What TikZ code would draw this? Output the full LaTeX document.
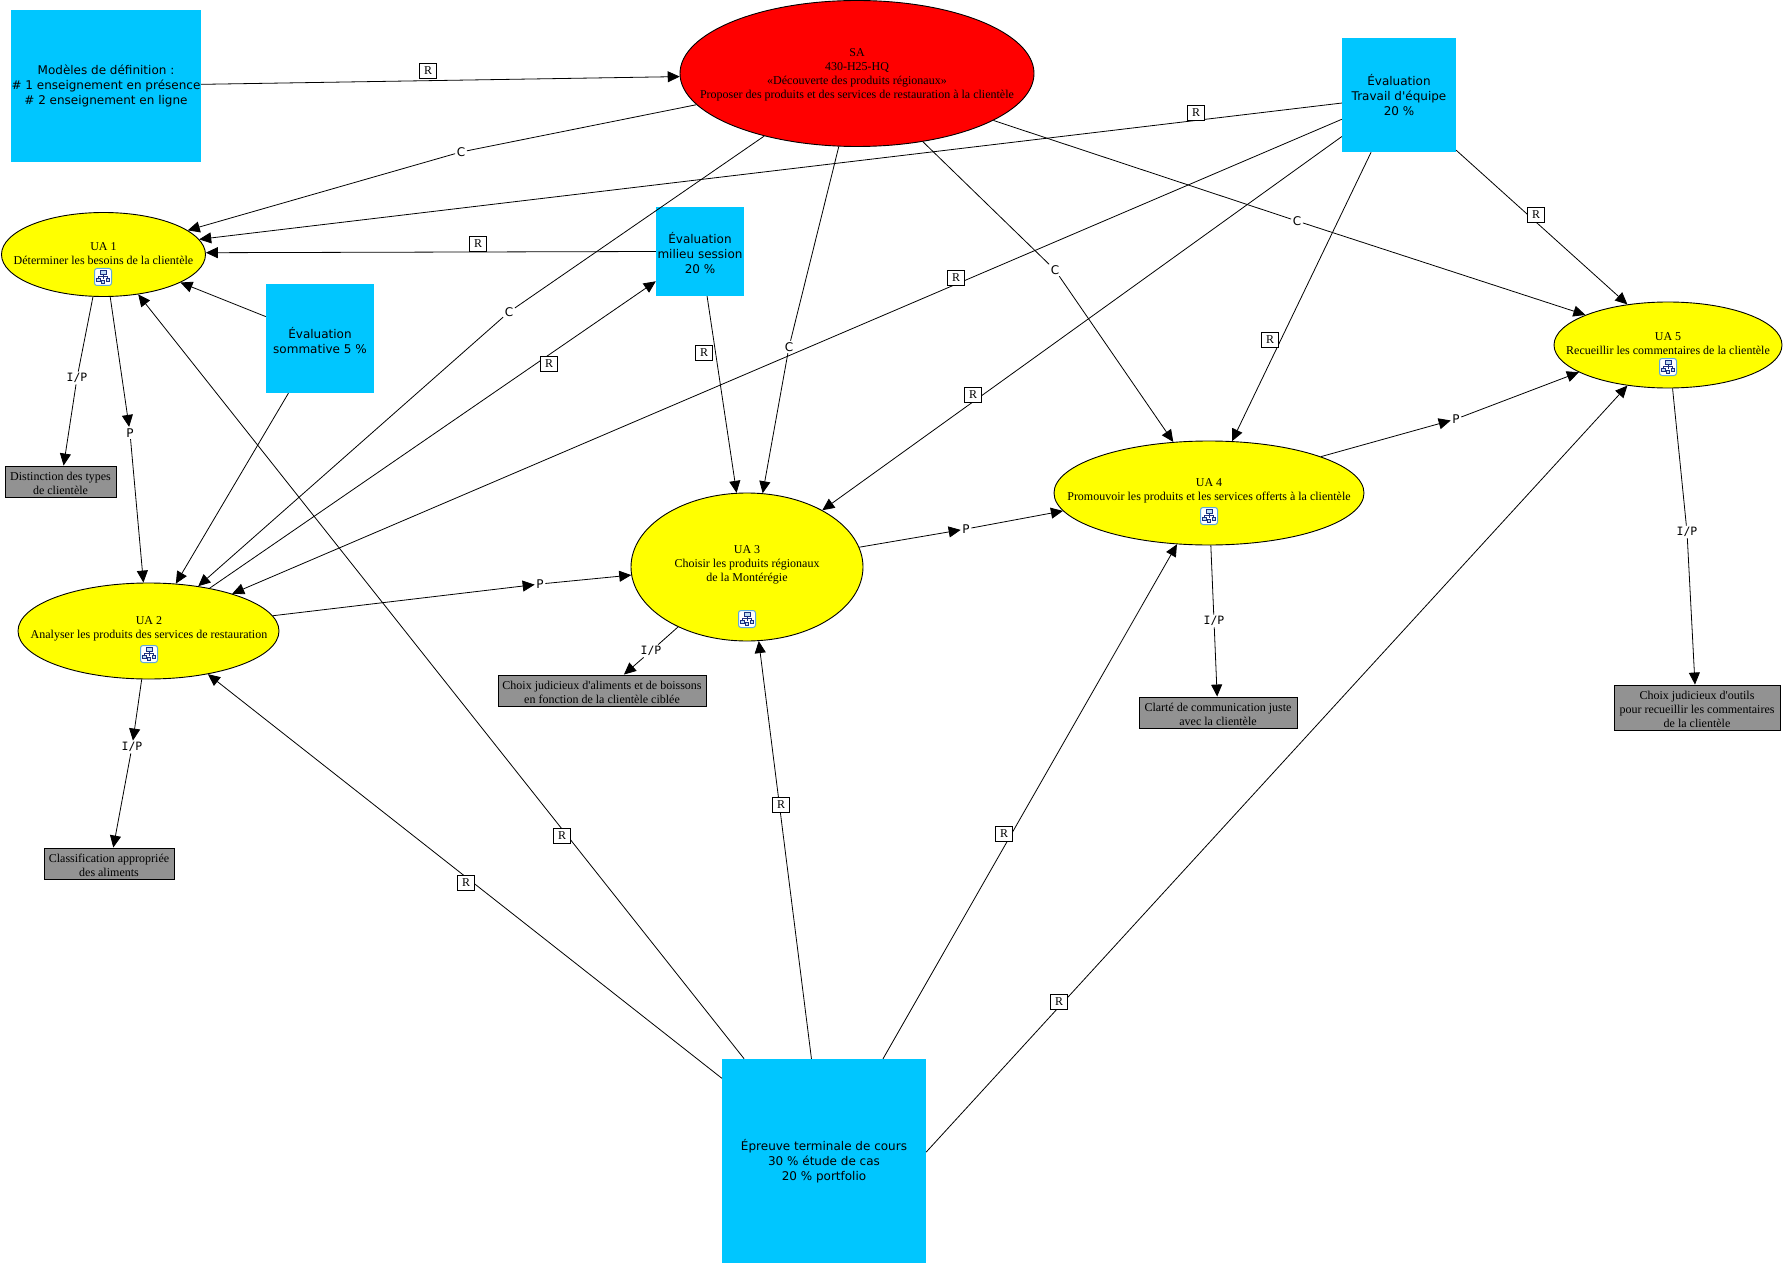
\documentclass[tikz,border=0pt]{standalone}
\usepackage{fontspec}
\usepackage{tikz}
\usetikzlibrary{shapes.geometric, arrows.meta}
\setmainfont{Liberation Serif}
\newfontfamily\uafont{Liberation Serif}
\newfontfamily\evalfont{DejaVu Sans}
\newfontfamily\ipfont{DejaVu Sans Mono}
\definecolor{evalblue}{HTML}{00C6FF}
\definecolor{critgray}{HTML}{929292}
\definecolor{iconblue}{HTML}{1A2F80}
\definecolor{iconedge}{HTML}{5FA8E0}
\definecolor{uayellow}{HTML}{FFFF00}
\definecolor{sared}{HTML}{FF0000}

\tikzset{
  mapicon/.pic={
    \draw[fill=white, draw=iconedge, rounded corners=2.5pt, line width=1pt] (-8.5,-8.5) rectangle (8.5,8.5);
    \draw[iconblue, line width=0.8pt] (0,-3) -- (0,2) (-4.5,1) -- (-4.5,-1) -- (4.5,-1) -- (4.5,1);
    \draw[iconblue, line width=0.9pt, fill=iconedge!40] (-3,-6.5) rectangle (3,-3);
    \draw[iconblue, line width=0.9pt, fill=iconedge!40] (-6.5,1) rectangle (-3,4.5);
    \draw[iconblue, line width=0.9pt, fill=iconedge!40] (3,1) rectangle (6.5,4.5);
    \draw[iconblue, line width=0.9pt, fill=iconedge!40] (-1.5,3) rectangle (1.5,6);
  }
}

\begin{document}
\begin{tikzpicture}[
  x=1pt, y=-1pt,
  >={Triangle[length=12pt,width=11pt]},
  every node/.style={inner sep=0pt, align=center},
  uatext/.style={font=\uafont\fontsize{12}{14}\selectfont},
  uabox/.style={ellipse, draw=black, fill=uayellow, line width=0.9pt},
  evaltext/.style={font=\evalfont\fontsize{12}{14.7}\selectfont},
  evalbox/.style={rectangle, fill=evalblue, evaltext},
  critbox/.style={rectangle, draw=black, fill=critgray, line width=0.9pt},
  relbox/.style={rectangle, draw=black, fill=white, line width=0.7pt, minimum width=17pt, minimum height=15pt, font=\uafont\fontsize{12}{12}\selectfont},
  lnk/.style={fill=white, inner sep=1.5pt, font=\evalfont\fontsize{12}{13}\selectfont},
  iplnk/.style={fill=white, inner sep=1.5pt, font=\ipfont\fontsize{11.5}{12}\selectfont},
  conn/.style={black, line width=0.8pt},
  arr/.style={conn, ->}
]
\useasboundingbox (0,0) rectangle (1783,1265);

% Situation
\node[ellipse, draw=black, fill=sared, line width=0.9pt, minimum width=354pt, minimum height=146pt] (sa) at (857,73.5) {};
\node[uatext] (saT) at (857,75)
  {SA\\430-H25-HQ\\«Découverte des produits régionaux»\\Proposer des produits et des services de restauration à la clientèle};

% Evaluation boxes
\node[evalbox, minimum width=190pt, minimum height=152pt] (model) at (106,86)
  {Modèles de définition :\\\# 1 enseignement en présence\\\# 2 enseignement en ligne};
\node[evalbox, minimum width=114pt, minimum height=114pt] (travail) at (1399,95)
  {Évaluation\\Travail d'équipe\\20 \%};
\node[evalbox, minimum width=88pt, minimum height=89pt] (milieu) at (700,251.5) {};
\node[evaltext] (milieuT) at (700,253) {Évaluation\\milieu session\\20 \%};
\node[evalbox, minimum width=108pt, minimum height=109pt] (somm) at (320,338.5) {};
\node[evaltext] (sommT) at (320,340.5) {Évaluation\\sommative 5 \%};
\node[evalbox, minimum width=204pt, minimum height=204pt] (finale) at (824,1161)
  {Épreuve terminale de cours\\30 \% étude de cas\\20 \% portfolio};

% Learning units
\node[uabox, minimum width=204pt, minimum height=84pt] (uaa) at (103.5,254.5) {};
\node[uabox, minimum width=261pt, minimum height=96pt] (uab) at (148.5,631) {};
\node[uabox, minimum width=232pt, minimum height=148pt] (uac) at (747,567) {};
\node[uabox, minimum width=310pt, minimum height=104pt] (uad) at (1209,493) {};
\node[uabox, minimum width=228pt, minimum height=86pt] (uae) at (1668,345) {};
\node[uatext] (uaaT) at (103.5,253.5) {UA 1\\Déterminer les besoins de la clientèle};
\node[uatext] (uabT) at (149,629) {UA 2\\Analyser les produits des services de restauration};
\node[uatext] (uacT) at (747,565) {UA 3\\Choisir les produits régionaux\\de la Montérégie};
\node[uatext] (uadT) at (1209,491) {UA 4\\Promouvoir les produits et les services offerts à la clientèle};
\node[uatext] (uaeT) at (1668,343.5) {UA 5\\Recueillir les commentaires de la clientèle};

% Map icons
\foreach \x/\y in {103/277, 149/654, 747/619, 1209/516, 1668/367} {
  \pic at (\x,\y) {mapicon};
}

% Criteria
\node[critbox, minimum width=111pt, minimum height=31pt] (critA) at (60.5,481.5) {};
\node[critbox, minimum width=130pt, minimum height=31pt] (critB) at (109,863.5) {};
\node[critbox, minimum width=208pt, minimum height=31pt] (critC) at (602,690.5) {};
\node[critbox, minimum width=158pt, minimum height=31pt] (critD) at (1218,712.5) {};
\node[critbox, minimum width=166pt, minimum height=45pt] (critE) at (1697,707.5) {};
\node[uatext] (critAT) at (60.5,483) {Distinction des types\\de clientèle};
\node[uatext] (critBT) at (109,865) {Classification appropriée\\des aliments};
\node[uatext] (critCT) at (602,692) {Choix judicieux d'aliments et de boissons\\en fonction de la clientèle ciblée};
\node[uatext] (critDT) at (1218,714) {Clarté de communication juste\\avec la clientèle};
\node[uatext] (critET) at (1697,709) {Choix judicieux d'outils\\pour recueillir les commentaires\\de la clientèle};

% Link labels
\node[lnk] (cA) at (461,152) {C};
\node[lnk] (cB) at (509,312) {C};
\node[lnk] (cC) at (789,347) {C};
\node[lnk] (cD) at (1055,270) {C};
\node[lnk] (cE) at (1297,221) {C};
\node[lnk] (pA) at (130,433) {P};
\node[lnk] (pB) at (540,584) {P};
\node[lnk] (pC) at (966,529) {P};
\node[lnk] (pD) at (1456,419) {P};
\node[iplnk] (ipA) at (77,378) {I/P};
\node[iplnk] (ipB) at (132,747) {I/P};
\node[iplnk] (ipC) at (651,651) {I/P};
\node[iplnk] (ipD) at (1214,621) {I/P};
\node[iplnk] (ipE) at (1687,532) {I/P};

% Links with a label on the way
\foreach \src/\lab/\dst in {sa.191.4/cA/uaa.16.7, sa.214.6/cB/uab.42.3, sa.256.2/cC/uac.78,
    sa.314.4/cD/uad.125, sa.341.1/cE/uae.160.3, uaa.256.1/ipA/critA.79,
    uac.221/ipC/critC.36.4, uad.-88.9/ipD/critD.93.7, uae.-84.7/ipE/critE.95} {
  \draw[conn] (\src) -- (\lab);
  \draw[arr] (\lab) -- (\dst);
}
% Proposition links have two arrow heads
\foreach \src/\lab/\dst in {uaa.-81.3/pA/uab.96.5, uab.7.8/pB/uac.184.4, uac.10.5/pC/uad.187.9,
    uad.18/pD/uae.197.7, uab.-98.9/ipB/critB.75.5} {
  \draw[arr] (\src) -- (\lab);
  \draw[arr] (\lab) -- (\dst);
}
% Direct links
\foreach \src/\dst in {model.1.2/sa.181, travail.188/uaa.9.1, milieu.180/uaa.1.4, somm.158.3/uaa.-20.2,
    somm.240.6/uab.60.2, uab.35.6/milieu.214.7, travail.203.7/uab.24.2, milieu.-81.2/uac.98.3,
    travail.216.4/uac.37, travail.244.7/uad.66.9, travail.-44.5/uae.135,
    finale.141.9/uab.-36.5, finale.128.5/uaa.-49.6, finale.97.3/uac.-81.7,
    finale.60/uad.238.1, finale.5/uae.225.7} {
  \draw[arr] (\src) -- (\dst);
}

% R boxes
\foreach \nm/\x/\y in {rA/428/71, rB/1196/113, rC/478/244, rD/549/364, rE/956/278, rF/704/353,
    rG/973/395, rH/1270/340, rI/1536/215, rJ/466/883, rK/562/836, rL/781/805, rM/1004/834, rN/1059/1002} {
  \node[relbox] (\nm) at (\x,\y) {R};
}
\end{tikzpicture}
\end{document}
